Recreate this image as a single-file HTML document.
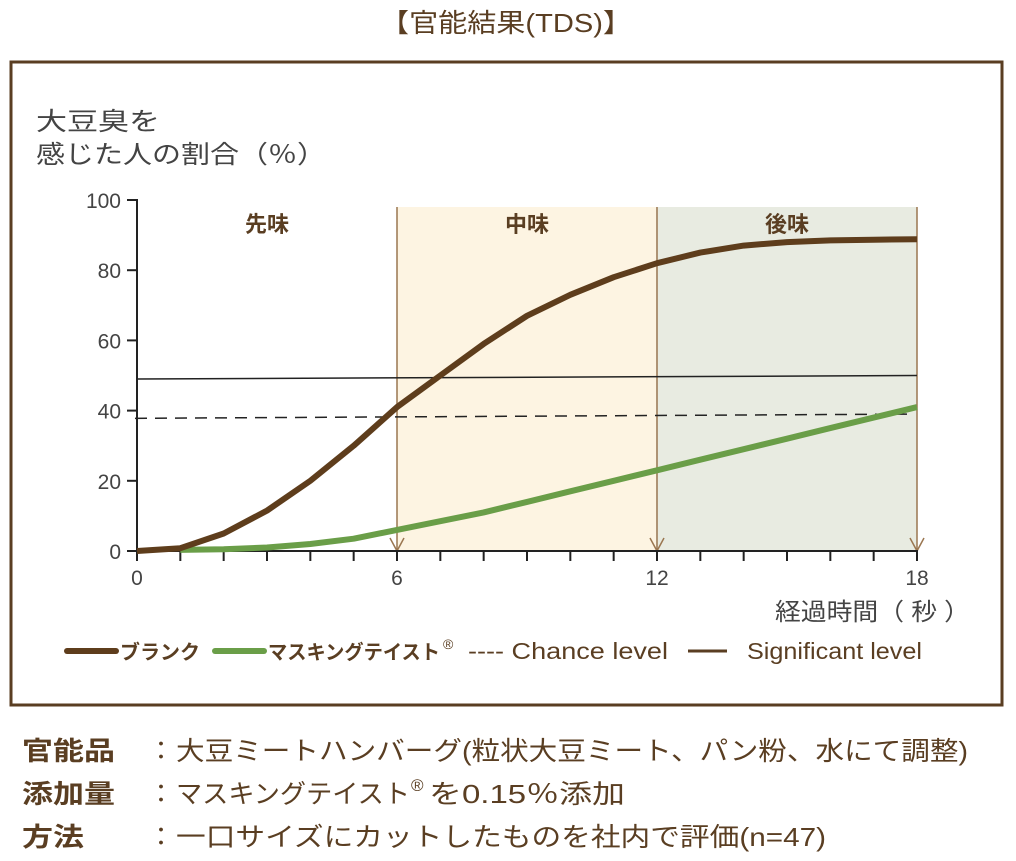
<!DOCTYPE html>
<html><head><meta charset="utf-8">
<style>
body{margin:0;background:#fff;}
svg{display:block;font-family:"Liberation Sans","Noto Sans CJK JP",sans-serif;}
</style></head>
<body>
<svg id="c" width="1016" height="861" viewBox="0 0 1016 861" xmlns="http://www.w3.org/2000/svg">
<text x="380" y="32" textLength="252" lengthAdjust="spacingAndGlyphs" font-size="26" fill="#5a3e22">【官能結果(TDS)】</text>
<rect x="11" y="62" width="991" height="643" fill="none" stroke="#5a3e22" stroke-width="3"/>
<rect x="397" y="207" width="259" height="344" fill="#fdf4e2"/>
<rect x="656" y="207" width="261" height="344" fill="#e8ebe1"/>
<g id="phases"></g>
<text x="36" y="130" textLength="124" lengthAdjust="spacingAndGlyphs" font-size="25" fill="#444">大豆臭を</text>
<text x="36" y="163" textLength="290" lengthAdjust="spacingAndGlyphs" font-size="25" fill="#444">感じた人の割合（％）</text>
<g id="axes"></g>
<g id="lines"></g>
<text x="775" y="620" textLength="195" lengthAdjust="spacingAndGlyphs" font-size="24" fill="#444">経過時間（ 秒 ）</text>
<g>
<line x1="67" y1="651" x2="116" y2="651" stroke="#5e3d1c" stroke-width="6" stroke-linecap="round"/>
<text x="120" y="659" textLength="80" lengthAdjust="spacingAndGlyphs" font-size="20" font-weight="bold" fill="#5a3e22">ブランク</text>
<line x1="215" y1="651" x2="264" y2="651" stroke="#6a9e48" stroke-width="6" stroke-linecap="round"/>
<text x="268" y="659" textLength="172" lengthAdjust="spacingAndGlyphs" font-size="20" font-weight="bold" fill="#5a3e22">マスキングテイスト</text>
<text x="443" y="649" font-size="14" fill="#5a3e22">®</text>
<text x="468" y="659" textLength="200" lengthAdjust="spacingAndGlyphs" font-size="23" fill="#5a3e22">---- Chance level</text>
<line x1="688" y1="651" x2="727" y2="651" stroke="#5a3e22" stroke-width="3"/>
<text x="747" y="659" textLength="175" lengthAdjust="spacingAndGlyphs" font-size="23" fill="#5a3e22">Significant level</text>
</g>
<g font-size="26" fill="#5a3e22">
<text x="22" y="760" textLength="93" lengthAdjust="spacingAndGlyphs" font-weight="bold">官能品</text>
<text x="148" y="760">：</text>
<text x="176" y="760" textLength="792" lengthAdjust="spacingAndGlyphs">大豆ミートハンバーグ(粒状大豆ミート、パン粉、水にて調整)</text>
<text x="22" y="803" textLength="93" lengthAdjust="spacingAndGlyphs" font-weight="bold">添加量</text>
<text x="148" y="803">：</text>
<text x="176" y="803" textLength="234" lengthAdjust="spacingAndGlyphs">マスキングテイスト</text>
<text x="411" y="791" font-size="17">®</text>
<text x="429" y="803" textLength="196" lengthAdjust="spacingAndGlyphs">を0.15％添加</text>
<text x="22" y="846" textLength="62" lengthAdjust="spacingAndGlyphs" font-weight="bold">方法</text>
<text x="148" y="846">：</text>
<text x="176" y="846" textLength="650" lengthAdjust="spacingAndGlyphs">一口サイズにカットしたものを社内で評価(n=47)</text>
</g>
</svg>
<script>
const seconds=[0,1,2,3,4,5,6,7,8,9,10,11,12,13,14,15,16,17,18];
const blank=[0,0.8,5,11.5,20,30,41,50,59,67,73,78,82,85,87,88,88.5,88.7,88.8];
const masking=[null,0.3,0.5,1,2,3.5,6,8.5,11,14,17,20,23,26,29,32,35,38,41];
const yTicks=[0,20,40,60,80,100];
const xLabels=[0,6,12,18];
const phaseBounds=[6,12,18];
const phaseNames=["先味","中味","後味"];
const phaseCenters=[3,9,15];
const chanceLevel=[37.8,39];
const significantLevel=[49,50];
const NS="http://www.w3.org/2000/svg";
const X=t=>137+t*(917-137)/18;
const Y=v=>551-v*(551-200)/100;
function mk(tag,attrs,parent){const e=document.createElementNS(NS,tag);for(const k in attrs)e.setAttribute(k,attrs[k]);parent.appendChild(e);return e;}
const ph=document.getElementById('phases'),ax=document.getElementById('axes'),ln=document.getElementById('lines');
phaseBounds.forEach((b,i)=>{
 const l=mk('line',{x1:X(b),y1:207,x2:X(b),y2:551,stroke:'#9a7650','stroke-width':1.5},ph);
 
 
 const a=mk('path',{d:`M${X(b)-7},538 L${X(b)},551 L${X(b)+7},538`,fill:'none',stroke:'#9a7650','stroke-width':1.5},ph);
 
 
});
phaseNames.forEach((n,i)=>{
 const t=mk('text',{x:X(phaseCenters[i]),y:232,'text-anchor':'middle','font-size':22,'font-weight':'bold',fill:'#5a3e22'},ph);
 t.textContent=n;
 
 
});
const ya=mk('line',{x1:137,y1:199,x2:137,y2:552,stroke:'#222','stroke-width':2},ax);


const xa=mk('line',{x1:136,y1:551,x2:918,y2:551,stroke:'#222','stroke-width':2},ax);


yTicks.forEach(v=>{
 mk('line',{x1:127,y1:Y(v),x2:137,y2:Y(v),stroke:'#222','stroke-width':2},ax);
 const t=mk('text',{x:121,y:Y(v)+8,'text-anchor':'end','font-size':21,fill:'#444'},ax);
 t.textContent=v;
 
 
});
seconds.forEach(s=>{mk('line',{x1:X(s),y1:551,x2:X(s),y2:561,stroke:'#222','stroke-width':2},ax);});
xLabels.forEach(v=>{
 const t=mk('text',{x:X(v),y:585,'text-anchor':'middle','font-size':21,fill:'#444'},ax);
 t.textContent=v;
 
 
});
const sig=mk('line',{x1:X(0),y1:Y(significantLevel[0]),x2:X(18),y2:Y(significantLevel[1]),stroke:'#222','stroke-width':1.5},ln);


const ch=mk('line',{x1:X(0)-2,y1:Y(chanceLevel[0]),x2:X(18)-8,y2:Y(chanceLevel[1]),stroke:'#222','stroke-width':1.5,'stroke-dasharray':'12,8'},ln);


function path(vals){return vals.map((v,i)=>v==null?null:[X(seconds[i]),Y(v)]).filter(p=>p).map((p,i)=>(i?'L':'M')+p[0].toFixed(1)+','+p[1].toFixed(1)).join(' ');}
const gm=mk('path',{d:path(masking),fill:'none',stroke:'#6a9e48','stroke-width':6,'stroke-linejoin':'round'},ln);


const gb=mk('path',{d:path(blank),fill:'none',stroke:'#5e3d1c','stroke-width':6,'stroke-linejoin':'round'},ln);


</script>
</body></html>
